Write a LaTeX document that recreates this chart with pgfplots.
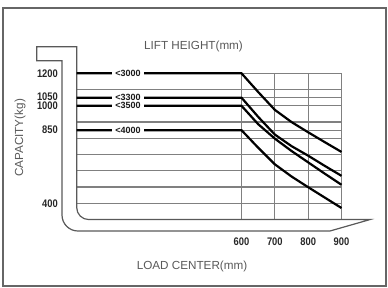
\documentclass[border=0pt]{standalone}
\usepackage{fontspec}
\setmainfont{Liberation Sans}
\newfontfamily\condensed[FakeStretch=0.85]{Liberation Sans}
\usepackage{pgfplots}
\pgfplotsset{compat=1.18}
\begin{document}
\begin{tikzpicture}
\begin{axis}[
  scale only axis, width=383pt, height=278pt,
  xmin=-115.5, xmax=1033.5, ymin=-108.9, ymax=1601.8,
  axis line style={draw=black!60, line width=1.1pt},
  xtick=\empty, ytick=\empty,
  clip=false,
]
% horizontal grid
\pgfplotsinvokeforeach{1200,1100,1050,1000,900,850,800,700,600,500,400}{
  \addplot[black!50, line width=1.2pt, forget plot] coordinates {(105.6,#1) (900,#1)};
}
% vertical grid
\pgfplotsinvokeforeach{600,700,800,900}{
  \addplot[black!50, line width=1.2pt, forget plot] coordinates {(#1,300) (#1,1200)};
}
% fork outline
\draw[black!65, line width=1.2pt]
  (axis cs:-14.4,1363.7) -- (axis cs:105.6,1363.7) -- (axis cs:105.6,373.8)
  arc[start angle=180, end angle=270, radius=12pt]
  -- (axis cs:985.5,300) -- (axis cs:865.5,229.5) -- (axis cs:109.5,229.5)
  arc[start angle=270, end angle=180, radius=16pt]
  -- (axis cs:61.5,1277.5) -- (axis cs:-14.4,1277.5) -- cycle;
% series
\addplot[black, line width=2.2pt] coordinates {
  (105.6,1200) (600,1200) (650,1085) (700,975) (750,900) (800,837) (850,776) (900,716)};
\addplot[black, line width=2.2pt] coordinates {
  (105.6,1050) (600,1050) (650,932) (700,823) (750,752) (800,693) (850,630) (900,569)};
\addplot[black, line width=2.2pt] coordinates {
  (105.6,1000) (600,1000) (650,887) (700,798) (750,722) (800,652) (850,582) (900,514)};
\addplot[black, line width=2.2pt] coordinates {
  (105.6,850) (600,850) (650,742) (700,640) (750,565) (800,499) (850,435) (900,371)};
% series labels
\begin{scope}[every node/.style={fill=white, inner xsep=3pt, inner ysep=0pt, font=\fontsize{9}{9}\selectfont\bfseries, text=black!90}]
\node at (axis cs:259.5,1200) {<3000};
\node at (axis cs:259.5,1050) {<3300};
\node at (axis cs:259.5,1000) {<3500};
\node at (axis cs:259.5,850) {<4000};
\end{scope}
% y tick labels
\begin{scope}[every node/.style={anchor=east, inner sep=0pt, font=\condensed\fontsize{11}{11}\selectfont\bfseries, text=black!85}]
\node at (axis cs:49.5,1200) {1200};
\node at (axis cs:49.5,1058) {1050};
\node at (axis cs:49.5,998) {1000};
\node at (axis cs:49.5,850) {850};
\node at (axis cs:49.5,400) {400};
\end{scope}
% x tick labels
\begin{scope}[every node/.style={inner sep=0pt, font=\condensed\fontsize{11}{11}\selectfont\bfseries, text=black!85}]
\node at (axis cs:600,162) {600};
\node at (axis cs:700,162) {700};
\node at (axis cs:800,162) {800};
\node at (axis cs:900,162) {900};
\end{scope}
% titles
\node[font=\fontsize{11.7}{12}\selectfont, text=black!65] at (axis cs:456,1362) {LIFT HEIGHT(mm)};
\node[font=\fontsize{11.7}{12}\selectfont, text=black!65] at (axis cs:451.5,10) {LOAD CENTER(mm)};
\node[font=\fontsize{11.7}{12}\selectfont, text=black!65, rotate=90] at (axis cs:-64.5,802) {CAPACITY(kg)};
\end{axis}
\pgfresetboundingbox
\path (-3pt,-1pt) rectangle (385pt,286pt);
\end{tikzpicture}
\end{document}
